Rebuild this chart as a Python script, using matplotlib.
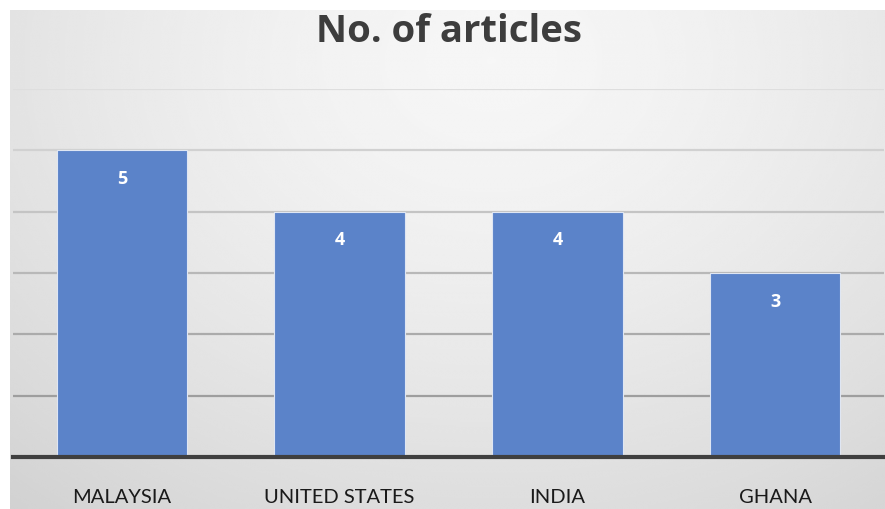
import numpy as np
import matplotlib
matplotlib.use("Agg")
import matplotlib.pyplot as plt

countries = ["MALAYSIA", "UNITED STATES", "INDIA", "GHANA"]
articles = [5, 4, 4, 3]
title = "No. of articles"

W, H = 885, 510
fig = plt.figure(figsize=(W / 100, H / 100), dpi=100)
fig.patch.set_facecolor("white")

# soft radial gradient panel behind the chart
bg = fig.add_axes([10 / W, 0, 1 - 10 / W, (H - 11) / H])
bg.set_axis_off()
yy, xx = np.mgrid[0:1:300j, 0:1:500j]
d = np.sqrt(((xx - 0.55) / 0.8) ** 2 + ((yy - 0.1) / 1.1) ** 2)
shade = 0.965 - 0.13 * np.clip(d, 0, 1.3) ** 1.5
bg.imshow(shade, cmap="gray", vmin=0, vmax=1, aspect="auto",
          extent=[0, 1, 1, 0], interpolation="bicubic")

ax = fig.add_axes([13 / W, (H - 458) / H, (884 - 13) / W, (458 - 90) / H])
ax.patch.set_alpha(0)
x = np.arange(len(countries))
ax.set_xlim(-0.5, len(countries) - 0.5)
ax.set_ylim(0, 6)

# gridlines fade toward the top
for lvl in range(1, 7):
    g = 0.62 + 0.05 * (lvl - 1)
    ax.axhline(lvl, color=(g, g, g), lw=1.6, zorder=1)

bars = ax.bar(x, articles, width=0.6, color="#5b83c9",
              edgecolor="#dfe6f3", linewidth=0.8, zorder=2)
for xi, v in zip(x, articles):
    ax.text(xi, v - 0.45, str(v), ha="center", va="center", color="white",
            fontsize=13, fontweight="bold", family="Open Sans", zorder=3)

ax.axhline(0, color="#3f3f3f", lw=3, zorder=4, clip_on=False)
for s in ax.spines.values():
    s.set_visible(False)
ax.set_yticks([])
ax.set_xticks(x)
ax.set_xticklabels(countries, family="Lato", fontsize=14.5, color="#1a1a1a")
ax.tick_params(axis="x", length=0, pad=22)

fig.text(449 / W, (H - 32) / H, title, ha="center", va="center",
         fontsize=27.5, fontweight="bold", family="Open Sans", color="#3d3d3d")

fig.savefig("out.png", dpi=100)
